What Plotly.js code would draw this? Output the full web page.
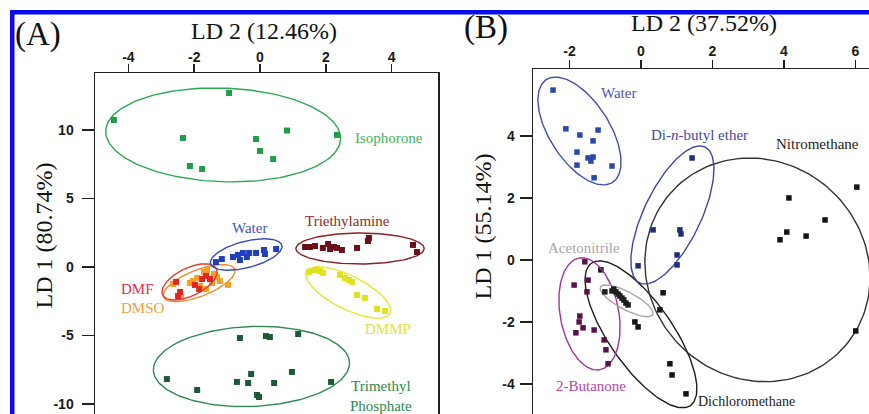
<!DOCTYPE html>
<html>
<head>
<meta charset="utf-8">
<script src="https://cdn.plot.ly/plotly-3.0.1.min.js"></script>
<style>html,body{margin:0;padding:0;background:#fff;}#chart{width:869px;height:414px;}</style>
</head>
<body>
<div id="chart"></div>
<script>
// ---------- Panel A data (LD2 = x, LD1 = y) ----------
const isophoroneX = [-0.94, -4.44, 0.82, 2.34, -2.34, -0.12, 0.00, 0.40, -2.13, -1.76];
const isophoroneY = [12.70, 10.73, 9.96, 9.64, 9.42, 9.34, 8.47, 7.88, 7.37, 7.15];
const waterAX = [-1.34, -1.16, -0.82, -0.67, -0.52, -0.40, -0.33, -0.12, 0.12, 0.15, 0.49, -0.61];
const waterAY = [0.36, 0.58, 0.73, 0.88, 1.02, 0.73, 1.02, 1.02, 1.24, 0.95, 1.31, 0.51];
const dmfX = [-2.55, -2.43, -2.49, -1.85, -1.76, -1.64, -1.52, -1.98];
const dmfY = [-1.09, -1.82, -2.12, -1.61, -0.88, -0.66, -0.88, -1.31];
const dmsoX = [-2.64, -2.40, -2.13, -2.04, -1.91, -1.70, -1.61, -1.46, -1.31, -1.22, -0.97, -1.64, -1.82, -1.40];
const dmsoY = [-1.24, -2.19, -1.17, -1.02, -0.80, -0.36, -0.22, -1.17, -0.73, -1.02, -1.31, -1.61, -1.39, -0.51];
const triethylamineX = [1.37, 1.52, 1.67, 1.91, 2.07, 2.13, 2.25, 2.34, 2.49, 2.95, 3.28, 3.31, 4.65, 4.77];
const triethylamineY = [1.46, 1.46, 1.53, 1.39, 1.68, 1.31, 1.46, 1.39, 1.24, 1.39, 1.90, 2.12, 1.61, 1.09];
const dmmpX = [1.49, 1.67, 1.82, 1.91, 2.43, 2.58, 2.71, 2.80, 2.95, 3.19, 3.56, 3.80];
const dmmpY = [-0.36, -0.22, -0.29, -0.44, -0.58, -0.80, -0.95, -1.09, -2.04, -2.26, -3.07, -3.21];
const trimethylX = [-0.61, 0.18, 0.30, 1.16, -2.83, -1.91, -0.70, -0.36, -0.27, 0.43, 0.97, 2.16, -0.09, -0.03];
const trimethylY = [-5.18, -5.04, -5.11, -4.89, -8.18, -8.98, -8.39, -8.47, -7.81, -8.47, -7.66, -8.39, -9.34, -9.49];

// ellipse: [centerX, centerY, u_x, u_y, v_x, v_y] (conjugate semi-diameters, data units)
const isophoroneEllipse = [-1.12, 9.64, 3.56, 0.0, -0.26, 3.43];
const waterAEllipse = [-0.42, 0.91, 1.09, 0.58, 0.0, 0.99];
const dmfEllipse = [-2.14, -1.09, 0.84, 0.73, 0.0, 1.10];
const dmsoEllipse = [-1.85, -1.17, 1.09, 0.88, 0.0, 1.03];
const triethylamineEllipse = [3.04, 1.35, 1.95, 0.0, 0.0, 1.13];
const dmmpEllipse = [2.68, -1.86, 1.29, -1.31, 0.0, 1.35];
const trimethylEllipse = [-0.26, -7.26, 2.98, 0.24, 0.0, 2.92];

// ---------- Panel B data ----------
const waterBX = [-2.46, -2.10, -1.71, -1.20, -1.34, -1.79, -1.48, -1.40, -1.34, -1.79, -1.31, -0.81];
const waterBY = [5.48, 4.23, 4.03, 4.19, 3.84, 3.48, 3.29, 3.19, 3.32, 3.06, 2.65, 3.03];
const dibutylX = [1.43, 0.34, 1.09, 1.12, 1.01, 1.01, -0.08];
const dibutylY = [3.29, 0.97, 0.97, 0.84, 0.16, -0.16, -0.19];
const nitroX = [4.14, 6.04, 5.15, 4.08, 3.89, 4.62, 6.01, 0.62, 0.53];
const nitroY = [2.00, 2.35, 1.29, 0.90, 0.65, 0.77, -2.29, -1.06, -1.61];
const acetonitrileX = [-1.01, -0.81, -0.76, -0.70, -0.64, -0.59, -0.53, -0.48, -0.42, -0.36];
const acetonitrileY = [-1.03, -1.00, -0.94, -1.03, -1.10, -1.16, -1.23, -1.29, -1.39, -1.45];
const butanoneX = [-1.57, -1.87, -1.48, -1.51, -1.71, -1.73, -1.62, -1.82, -1.31, -1.03, -0.98, -0.92];
const butanoneY = [-0.06, -0.81, -0.65, -1.03, -1.81, -2.00, -2.19, -2.35, -2.26, -2.58, -2.90, -3.35];
const dichloroX = [-1.12, -0.17, -0.08, 0.81, 0.87, 1.26];
const dichloroY = [-0.32, -2.00, -2.16, -3.35, -3.71, -4.32];

const waterBEllipse = [-1.72, 4.16, 0.95, 0.0, -0.67, 1.74];
const dibutylEllipse = [0.88, 1.45, 0.87, 0.0, 0.77, 2.23];
const nitroEllipse = [3.26, -0.32, 3.15, -0.25, 0.0, 3.60];
const acetonitrileEllipse = [-0.40, -1.32, 0.74, -0.40, 0.0, 0.32];
const butanoneEllipse = [-1.44, -1.74, 0.83, 0.0, -0.21, 1.81];
const dichloroEllipse = [0.0, -2.40, 1.05, 0.0, -1.16, 2.37];

// tick labels
const axTickVals = [-4, -2, 0, 2, 4];
const axTickText = ["-4", "-2", "0", "2", "4"];
const ayTickVals = [-10, -5, 0, 5, 10];
const ayTickText = ["-10", "-5", "0", "5", "10"];
const bxTickVals = [-2, 0, 2, 4, 6];
const bxTickText = ["-2", "0", "2", "4", "6"];
const byTickVals = [-4, -2, 0, 2, 4];
const byTickText = ["-4", "-2", "0", "2", "4"];

// titles / labels
const panelALetter = "(A)", panelBLetter = "(B)";
const aXTitle = "LD 2 (12.46%)", aYTitle = "LD 1 (80.74%)";
const bXTitle = "LD 2 (37.52%)", bYTitle = "LD 1 (55.14%)";

// ---------- build ----------
function ellipsePath(e) {
  const [cx, cy, ux, uy, vx, vy] = e;
  const xs = [], ys = [];
  const n = 160;
  for (let i = 0; i <= n; i++) {
    const t = 2 * Math.PI * i / n;
    xs.push(cx + ux * Math.cos(t) + vx * Math.sin(t));
    ys.push(cy + uy * Math.cos(t) + vy * Math.sin(t));
  }
  return { xs, ys };
}

const traces = [];
function addGroup(xs, ys, ell, mColor, eColor, panel, msize) {
  const xa = panel === 'A' ? 'x' : 'x2';
  const ya = panel === 'A' ? 'y' : 'y2';
  const p = ellipsePath(ell);
  traces.push({ x: p.xs, y: p.ys, xaxis: xa, yaxis: ya, mode: 'lines',
    line: { color: eColor, width: 1.4 }, hoverinfo: 'skip' });
  traces.push({ x: xs, y: ys, xaxis: xa, yaxis: ya, mode: 'markers',
    marker: { symbol: 'square', size: msize, color: mColor, line: { width: 0 } } });
}

addGroup(isophoroneX, isophoroneY, isophoroneEllipse, '#1f9e48', '#2aa84e', 'A', 6);
addGroup(trimethylX, trimethylY, trimethylEllipse, '#1b5a36', '#2e8a4e', 'A', 6);
addGroup(triethylamineX, triethylamineY, triethylamineEllipse, '#6a1018', '#8b1e26', 'A', 6);
addGroup(dmmpX, dmmpY, dmmpEllipse, '#e2e21c', '#e6e632', 'A', 6);
addGroup(dmsoX, dmsoY, dmsoEllipse, '#f5a020', '#f08a2c', 'A', 6);
addGroup(dmfX, dmfY, dmfEllipse, '#e42424', '#e53a30', 'A', 6);
addGroup(waterAX, waterAY, waterAEllipse, '#1f3fbf', '#3a4db0', 'A', 6);

addGroup(nitroX, nitroY, nitroEllipse, '#141414', '#333333', 'B', 5.5);
addGroup(dichloroX, dichloroY, dichloroEllipse, '#141414', '#1e1e1e', 'B', 5.5);
addGroup(butanoneX, butanoneY, butanoneEllipse, '#5a1048', '#a0359a', 'B', 5.5);
addGroup(acetonitrileX, acetonitrileY, acetonitrileEllipse, '#1e1e1e', '#a5a5a5', 'B', 5.5);
addGroup(dibutylX, dibutylY, dibutylEllipse, '#1f2d7a', '#3a48a8', 'B', 5.5);
addGroup(waterBX, waterBY, waterBEllipse, '#2848b0', '#4050b0', 'B', 5.5);

const W = 869, H = 414;
const px = v => v / W, py = v => 1 - v / H;

const serif = 'Liberation Serif, Times New Roman, serif';
const sans = 'Liberation Sans, Arial, sans-serif';
const tickFont = { family: sans, size: 14, color: '#1a1a1a', weight: 700 };

function lab(text, x, y, color, xref, yref, size, xanchor) {
  return { text, x, y, xref, yref, showarrow: false, xanchor: xanchor || 'center', yanchor: 'middle',
    font: { family: serif, size: size || 15, color } };
}

const annotations = [
  // panel A labels
  lab('Isophorone', 3.91, 9.45, '#3cb55a', 'x', 'y'),
  lab('Water', -0.33, 2.88, '#4455bb', 'x', 'y'),
  lab('Triethylamine', 2.67, 3.36, '#962a2a', 'x', 'y'),
  lab('DMF', -4.29, -1.61, '#e8303a', 'x', 'y', 15, 'left'),
  lab('DMSO', -4.29, -2.99, '#f0a040', 'x', 'y', 15, 'left'),
  lab('DMMP', 3.89, -4.53, '#e2e23c', 'x', 'y'),
  lab('Trimethyl<br>Phosphate', 3.68, -9.42, '#2a8a4a', 'x', 'y'),
  // panel B labels
  lab('Water', -0.63, 5.39, '#4a55b0', 'x2', 'y2'),
  lab('Di-<i>n</i>-butyl ether', 1.65, 4.03, '#3d4aa8', 'x2', 'y2'),
  lab('Nitromethane', 4.94, 3.74, '#222222', 'x2', 'y2'),
  lab('Acetonitrile', -1.58, 0.39, '#a8a8a8', 'x2', 'y2'),
  lab('2-Butanone', -1.41, -4.06, '#b545ab', 'x2', 'y2'),
  lab('Dichloromethane', 2.95, -4.58, '#222222', 'x2', 'y2', 14),
  // titles
  lab(panelALetter, px(38), py(34), '#111', 'paper', 'paper', 33),
  lab(aXTitle, px(263.5), py(31), '#111', 'paper', 'paper', 24),
  Object.assign(lab(aYTitle, px(43), py(235.5), '#111', 'paper', 'paper', 24), { textangle: -90 }),
  lab(panelBLetter, px(486), py(27.5), '#111', 'paper', 'paper', 33),
  lab(bXTitle, px(703.5), py(23), '#111', 'paper', 'paper', 24),
  Object.assign(lab(bYTitle, px(482), py(226.5), '#111', 'paper', 'paper', 24), { textangle: -90 })
];

const axisCommon = { showgrid: false, zeroline: false, showline: true, linecolor: '#222', linewidth: 1.5,
  ticks: 'outside', tickcolor: '#222', tickwidth: 1.5, tickfont: tickFont, tickmode: 'array', fixedrange: true };

const layout = {
  width: W, height: H,
  margin: { l: 0, r: 0, t: 0, b: 0, pad: 0 },
  paper_bgcolor: '#ffffff', plot_bgcolor: '#ffffff',
  showlegend: false, hovermode: false,
  xaxis: Object.assign({}, axisCommon, { domain: [px(95), px(438)], range: [-5.015, 5.41], side: 'top',
    tickvals: axTickVals, ticktext: axTickText, ticklen: 8, ticklabelstandoff: -4, anchor: 'y' }),
  yaxis: Object.assign({}, axisCommon, { domain: [0, py(73)], range: [-10.73, 14.16], mirror: true,
    tickvals: ayTickVals, ticktext: ayTickText, ticklen: 12, ticklabelstandoff: 5, anchor: 'x' }),
  xaxis2: Object.assign({}, axisCommon, { domain: [px(533), 1], range: [-3.02, 6.38], side: 'top',
    tickvals: bxTickVals, ticktext: bxTickText, ticklen: 8, ticklabelstandoff: -2, anchor: 'y2' }),
  yaxis2: Object.assign({}, axisCommon, { domain: [0, py(69)], range: [-4.97, 6.16], mirror: false,
    tickvals: byTickVals, ticktext: byTickText, ticklen: 12, ticklabelstandoff: 2, anchor: 'x2' }),
  annotations,
  shapes: [
    { type: 'rect', xref: 'paper', yref: 'paper', x0: px(10), x1: 1.0, y0: py(14.5), y1: py(10),
      fillcolor: '#0a0af5', line: { width: 0 }, layer: 'above' },
    { type: 'rect', xref: 'paper', yref: 'paper', x0: px(10), x1: px(14.5), y0: 0, y1: py(10),
      fillcolor: '#0a0af5', line: { width: 0 }, layer: 'above' }
  ]
};

Plotly.newPlot('chart', traces, layout, { staticPlot: true, displayModeBar: false });
</script>
</body>
</html>
